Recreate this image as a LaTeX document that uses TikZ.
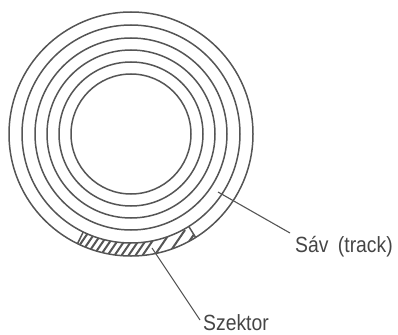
\documentclass[tikz,border=0pt]{standalone}
\usepackage{fontspec}
\newfontfamily\lblfont[FakeStretch=0.88]{Liberation Sans}
\definecolor{ink}{HTML}{555555}
\definecolor{txt}{HTML}{454545}
\begin{document}
\begin{tikzpicture}[x=1pt,y=-1pt,
  ring/.style={draw=ink,line width=1.5pt},
  hatch/.style={draw=ink,line width=2pt},
  leader/.style={draw=ink,line width=1.1pt},
  lbl/.style={font=\lblfont\fontsize{22}{24}\selectfont,text=txt,inner sep=0pt,anchor=base west}]
\useasboundingbox (0,0) rectangle (398,334);
\begin{scope}[shift={(131,134)}]
  \coordinate (ctr) at (0,0);
  % hatched sector
  \begin{scope}
    \clip (ctr) circle[radius=122pt];
    \clip (ctr) -- (116:200) -- (87:200) -- (58:200) -- cycle;
    \foreach \xx in {-70,-63,...,8} {\draw[hatch] (\xx,128) -- (\xx+22,96);}
    \foreach \xx in {19,32,44} {\draw[hatch] (\xx,128) -- (\xx+22,96);}
  \end{scope}
  \fill[white] (ctr) circle[radius=109pt];
  % tracks
  \foreach \r in {122,109,96,84,72,60} {\draw[ring] (ctr) circle[radius=\r pt];}
  \draw[ring] (116:109) -- (116:122);
  \draw[ring] (58:109) -- (58:122);
\end{scope}
\node[lbl] (sav) at (295,252) {Sáv\hspace{4pt} (track)};
\node[lbl] (szek) at (203,330) {Szektor};
\coordinate (savtip) at (218,192);
\coordinate (savend) at (290,233);
\coordinate (szektip) at (152,248);
\coordinate (szekend) at (200,320);
\draw[leader] (savtip) -- (savend);
\draw[leader] (szektip) -- (szekend);
\end{tikzpicture}
\end{document}
